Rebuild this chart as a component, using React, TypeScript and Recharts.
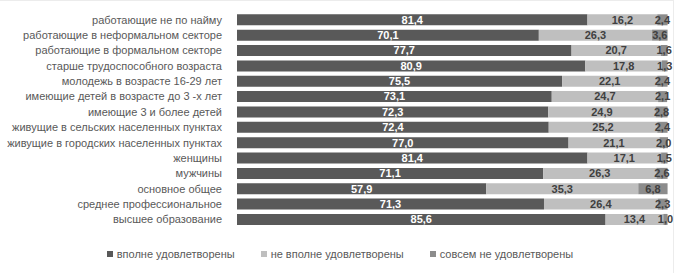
import { BarChart, Bar, XAxis, YAxis, Legend, LabelList } from "recharts";

/* категории */
const CATEGORIES = [
  "работающие не по найму",
  "работающие в неформальном секторе",
  "работающие в формальном секторе",
  "старше трудоспособного возраста",
  "молодежь в возрасте 16-29 лет",
  "имеющие детей в возрасте до 3 -х лет",
  "имеющие 3 и более детей",
  "живущие в сельских населенных пунктах",
  "живущие в городских населенных пунктах",
  "женщины",
  "мужчины",
  "основное общее",
  "среднее профессиональное",
  "высшее образование",
];

/* значения рядов, % */
const FULLY = [81.4, 70.1, 77.7, 80.9, 75.5, 73.1, 72.3, 72.4, 77.0, 81.4, 71.1, 57.9, 71.3, 85.6];
const PARTLY = [16.2, 26.3, 20.7, 17.8, 22.1, 24.7, 24.9, 25.2, 21.1, 17.1, 26.3, 35.3, 26.4, 13.4];
const NOT_AT_ALL = [2.4, 3.6, 1.6, 1.3, 2.4, 2.1, 2.8, 2.4, 2.0, 1.5, 2.6, 6.8, 2.3, 1.0];

const SERIES_NAMES = ["вполне удовлетворены", "не вполне удовлетворены", "совсем не удовлетворены"];
const COLORS = ["#595959", "#bfbfbf", "#8c8c8c"];

const data = CATEGORIES.map((name, i) => ({
  name,
  fully: FULLY[i],
  partly: PARTLY[i],
  notAtAll: NOT_AT_ALL[i],
}));

const fmt = (v: any) => Number(v).toFixed(1).replace(".", ",");

const FONT = "'Liberation Sans', Arial, sans-serif";

/* подпись категории в одну строку */
function CategoryTick({ x, y, payload }: any) {
  return (
    <text x={x} y={y} dy={4} textAnchor="end" fill="#595959" fontSize={11} fontFamily={FONT}>
      {payload.value}
    </text>
  );
}

/* легенда в стиле Excel */
function LegendContent() {
  return (
    <div style={{ display: "flex", justifyContent: "center", gap: 26, paddingLeft: 12, fontSize: 11, color: "#595959", fontFamily: FONT }}>
      {SERIES_NAMES.map((name, i) => (
        <div key={name} style={{ display: "flex", alignItems: "center" }}>
          <div style={{ width: 6, height: 6, background: COLORS[i], marginRight: 4 }} />
          <span>{name}</span>
        </div>
      ))}
    </div>
  );
}

export default function App() {
  return (
    <div style={{ position: "absolute", left: 0, top: 0, width: 686, height: 273, background: "#fff", fontFamily: FONT }}>
      <div style={{ position: "absolute", left: 0, top: 0, width: 674, height: 273, borderTop: "1px solid #ececec", borderRight: "1px solid #ececec", boxSizing: "border-box" }} />
      <BarChart
        width={686}
        height={273}
        data={data}
        layout="vertical"
        margin={{ top: 12, right: 18, bottom: 34, left: 0 }}
        barCategoryGap="15%"
      >
        <XAxis type="number" domain={[0, 100]} hide />
        <YAxis
          type="category"
          dataKey="name"
          width={237}
          tickLine={false}
          axisLine={false}
          tickSize={0}
          tickMargin={15}
          interval={0}
          tick={<CategoryTick />}
        />
        <Legend verticalAlign="bottom" content={<LegendContent />} wrapperStyle={{ bottom: 13 }} />
        <Bar dataKey="fully" name={SERIES_NAMES[0]} stackId="a" fill={COLORS[0]} isAnimationActive={false}>
          <LabelList dataKey="fully" position="center" formatter={fmt} fill="#ffffff" fontSize={11} fontWeight="bold" />
        </Bar>
        <Bar dataKey="partly" name={SERIES_NAMES[1]} stackId="a" fill={COLORS[1]} isAnimationActive={false}>
          <LabelList dataKey="partly" position="center" formatter={fmt} fill="#404040" fontSize={11} fontWeight="bold" />
        </Bar>
        <Bar dataKey="notAtAll" name={SERIES_NAMES[2]} stackId="a" fill={COLORS[2]} isAnimationActive={false}>
          <LabelList dataKey="notAtAll" position="center" formatter={fmt} fill="#404040" fontSize={11} fontWeight="bold" />
        </Bar>
      </BarChart>
    </div>
  );
}
